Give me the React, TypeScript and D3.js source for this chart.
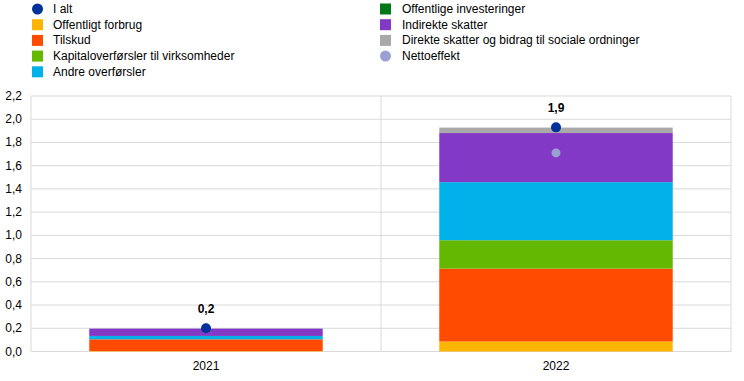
import React from "react";
import * as d3 from "d3";

const categories = ["2021", "2022"];
const seriesNames = [
  "Offentligt forbrug",
  "Tilskud",
  "Kapitaloverførsler til virksomheder",
  "Andre overførsler",
  "Offentlige investeringer",
  "Indirekte skatter",
  "Direkte skatter og bidrag til sociale ordninger",
];
const offentligtForbrug = [0.004, 0.086];
const tilskud = [0.101, 0.628];
const kapitaloverforsler = [0.0, 0.244];
const andreOverforsler = [0.029, 0.5];
const offentligeInvesteringer = [0.0, 0.0];
const indirekteSkatter = [0.063, 0.423];
const direkteSkatter = [0.0, 0.047];
const iAlt = [0.2, 1.93];
const iAltLabels = ["0,2", "1,9"];
const nettoeffekt = [0.2, 1.71];
const yTicks = [0, 0.2, 0.4, 0.6, 0.8, 1.0, 1.2, 1.4, 1.6, 1.8, 2.0, 2.2];

const seriesValues = [
  offentligtForbrug,
  tilskud,
  kapitaloverforsler,
  andreOverforsler,
  offentligeInvesteringer,
  indirekteSkatter,
  direkteSkatter,
];
const colors = ["#FFB400", "#FF4B00", "#65B800", "#00B1EA", "#007816", "#8139C6", "#A9A9A9"];

const legendLeft = [
  { label: "I alt", color: "#003299", circle: true },
  { label: "Offentligt forbrug", color: "#FFB400" },
  { label: "Tilskud", color: "#FF4B00" },
  { label: "Kapitaloverførsler til virksomheder", color: "#65B800" },
  { label: "Andre overførsler", color: "#00B1EA" },
];
const legendRight = [
  { label: "Offentlige investeringer", color: "#007816" },
  { label: "Indirekte skatter", color: "#8139C6" },
  { label: "Direkte skatter og bidrag til sociale ordninger", color: "#A9A9A9" },
  { label: "Nettoeffekt", color: "#98A1D0", circle: true },
];

export default function App() {
  const W = 744, H = 381;
  const left = 31, right = 731, top = 96, bottom = 351.5;
  const font = "'Liberation Sans', Arial, sans-serif";
  const x = d3.scaleBand().domain(categories).range([left, right]).paddingInner(0).paddingOuter(0);
  const y = d3.scaleLinear().domain([0, 2.2]).range([bottom, top]);
  const barW = x.bandwidth() * 0.667;

  const table = categories.map((c, i) => {
    const row: any = { cat: c };
    seriesNames.forEach((s, j) => (row[s] = seriesValues[j][i]));
    return row;
  });
  const stacked = d3.stack().keys(seriesNames)(table);

  const legendRow = (items: any[], mx: number, tx: number) =>
    items.map((it, i) => {
      const cy = 9 + i * 15.7;
      return (
        <g key={it.label}>
          {it.circle ? (
            <circle cx={mx + 5.5} cy={cy} r={5.5} fill={it.color} />
          ) : (
            <rect x={mx} y={cy - 5.5} width={11} height={11} fill={it.color} />
          )}
          <text x={tx} y={cy + 4} fontSize={12} fontFamily={font} fill="#000">
            {it.label}
          </text>
        </g>
      );
    });

  return (
    <svg width={W} height={H} style={{ position: "absolute", left: 0, top: 0, background: "#fff" }}>
      {legendRow(legendLeft, 32, 53)}
      {legendRow(legendRight, 380, 402)}
      {yTicks.map((t) => (
        <g key={t}>
          <line x1={left} x2={right} y1={y(t)} y2={y(t)} stroke="#D9D9D9" strokeWidth={1} />
          <text x={22} y={y(t) + 4} textAnchor="end" fontSize={12} fontFamily={font} fill="#000">
            {d3.format(".1f")(t).replace(".", ",")}
          </text>
        </g>
      ))}
      <line x1={left} x2={left} y1={top} y2={bottom} stroke="#D9D9D9" />
      <line x1={x("2022")} x2={x("2022")} y1={top} y2={bottom} stroke="#D9D9D9" />
      <line x1={right} x2={right} y1={top} y2={bottom} stroke="#D9D9D9" />
      {stacked.map((layer, j) =>
        layer.map((d, i) => {
          const cx = (x(categories[i]) as number) + x.bandwidth() / 2;
          const h = y(d[0]) - y(d[1]);
          if (h <= 0) return null;
          return (
            <rect key={j + "-" + i} x={cx - barW / 2} y={y(d[1])} width={barW} height={h} fill={colors[j]} />
          );
        })
      )}
      {categories.map((c, i) => {
        const cx = (x(c) as number) + x.bandwidth() / 2;
        return (
          <g key={c}>
            <circle cx={cx} cy={y(nettoeffekt[i])} r={4.5} fill="#98A1D0" />
            <circle cx={cx} cy={y(iAlt[i])} r={5} fill="#003299" />
            <text x={cx} y={y(iAlt[i]) - 15} textAnchor="middle" fontSize={12} fontWeight="bold" fontFamily={font}>
              {iAltLabels[i]}
            </text>
            <text x={cx} y={370} textAnchor="middle" fontSize={12} fontFamily={font}>
              {c}
            </text>
          </g>
        );
      })}
    </svg>
  );
}
